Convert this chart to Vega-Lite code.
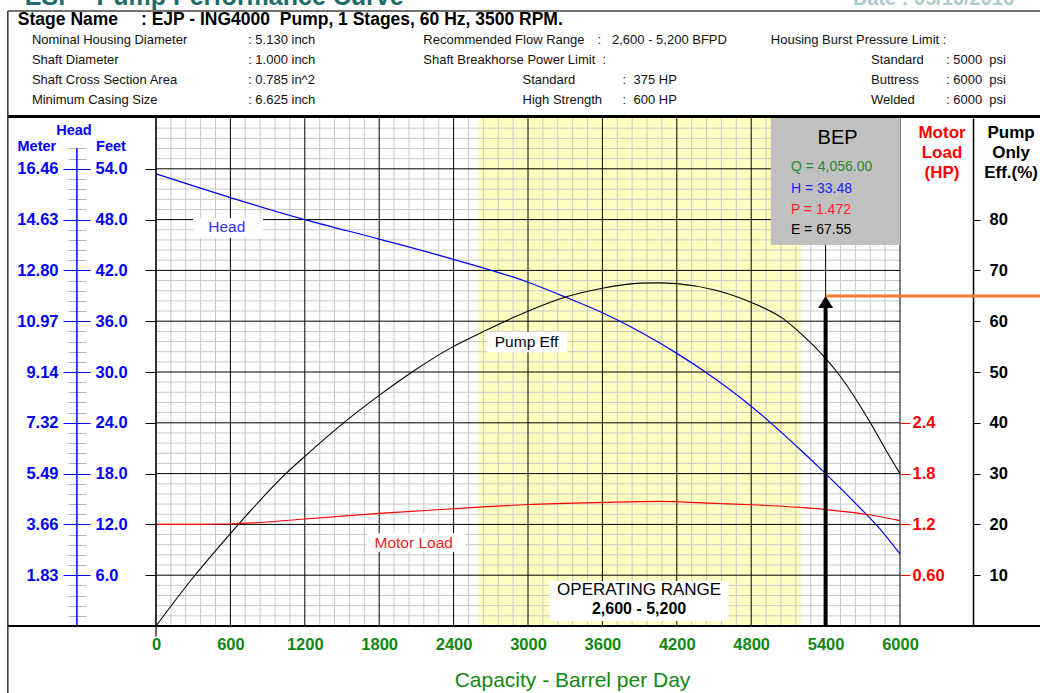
{
  "$schema": "https://vega.github.io/schema/vega-lite/v6.json",
  "width": 744,
  "height": 508,
  "autosize": {"type": "none"},
  "padding": {"left": 156, "top": 118, "right": 140, "bottom": 67},
  "background": "white",
  "config": {
    "view": {"stroke": null},
    "font": "Liberation Sans",
    "text": {"font": "Liberation Sans"},
    "axis": {"labelFont": "Liberation Sans", "titleFont": "Liberation Sans", "grid": false, "labelOverlap": false, "labelFlush": false, "labelBound": false}
  },
  "data": {"values": [{}]},
  "datasets": {
    "head": [
      {"q": 0, "ft": 53.4}, {"q": 600, "ft": 50.6}, {"q": 1200, "ft": 48.0}, {"q": 1800, "ft": 45.7},
      {"q": 2400, "ft": 43.3}, {"q": 3000, "ft": 40.6}, {"q": 3310, "ft": 38.8}, {"q": 3600, "ft": 37.0},
      {"q": 4056, "ft": 33.48}, {"q": 4200, "ft": 32.2}, {"q": 4410, "ft": 30.2}, {"q": 4870, "ft": 25.1},
      {"q": 5190, "ft": 20.9}, {"q": 5400, "ft": 18.0}, {"q": 5734, "ft": 13.1}, {"q": 5806, "ft": 12.0}, {"q": 6000, "ft": 8.5}
    ],
    "eff": [
      {"q": 0, "eff": 0}, {"q": 288, "eff": 9.2}, {"q": 600, "eff": 18.2}, {"q": 1047, "eff": 30.0},
      {"q": 1200, "eff": 33.4}, {"q": 1503, "eff": 39.8}, {"q": 1800, "eff": 45.4}, {"q": 2084, "eff": 50.3},
      {"q": 2374, "eff": 54.7}, {"q": 2670, "eff": 58.3}, {"q": 2993, "eff": 61.9}, {"q": 3317, "eff": 64.85},
      {"q": 3599, "eff": 66.5}, {"q": 3908, "eff": 67.5}, {"q": 4056, "eff": 67.55}, {"q": 4199, "eff": 67.4},
      {"q": 4498, "eff": 66.2}, {"q": 4810, "eff": 63.6}, {"q": 5063, "eff": 60.4}, {"q": 5194, "eff": 57.7},
      {"q": 5400, "eff": 52.7}, {"q": 5492, "eff": 50.0}, {"q": 5766, "eff": 39.8}, {"q": 5894, "eff": 34.3}, {"q": 6000, "eff": 30.0}
    ],
    "motor": [
      {"q": 0, "hp": 1.2}, {"q": 300, "hp": 1.2}, {"q": 600, "hp": 1.205}, {"q": 1200, "hp": 1.264}, {"q": 1800, "hp": 1.33},
      {"q": 2400, "hp": 1.385}, {"q": 3000, "hp": 1.435}, {"q": 3600, "hp": 1.46}, {"q": 4056, "hp": 1.472},
      {"q": 4521, "hp": 1.447}, {"q": 4800, "hp": 1.432}, {"q": 5194, "hp": 1.40}, {"q": 5400, "hp": 1.375},
      {"q": 5766, "hp": 1.311}, {"q": 6000, "hp": 1.244}
    ],
    "xminor": [
      {"v": 120}, {"v": 240}, {"v": 360}, {"v": 480}, {"v": 720}, {"v": 840}, {"v": 960}, {"v": 1080},
      {"v": 1320}, {"v": 1440}, {"v": 1560}, {"v": 1680}, {"v": 1920}, {"v": 2040}, {"v": 2160}, {"v": 2280},
      {"v": 2520}, {"v": 2640}, {"v": 2760}, {"v": 2880}, {"v": 3120}, {"v": 3240}, {"v": 3360}, {"v": 3480},
      {"v": 3720}, {"v": 3840}, {"v": 3960}, {"v": 4080}, {"v": 4320}, {"v": 4440}, {"v": 4560}, {"v": 4680},
      {"v": 4920}, {"v": 5040}, {"v": 5160}, {"v": 5280}, {"v": 5520}, {"v": 5640}, {"v": 5760}, {"v": 5880}
    ],
    "xmajor": [
      {"v": 0}, {"v": 600}, {"v": 1200}, {"v": 1800}, {"v": 2400}, {"v": 3000}, {"v": 3600},
      {"v": 4200}, {"v": 4800}, {"v": 5400}, {"v": 6000}
    ],
    "yminor": [
      {"v": 1.2}, {"v": 2.4}, {"v": 3.6}, {"v": 4.8}, {"v": 7.2}, {"v": 8.4}, {"v": 9.6}, {"v": 10.8},
      {"v": 13.2}, {"v": 14.4}, {"v": 15.6}, {"v": 16.8}, {"v": 19.2}, {"v": 20.4}, {"v": 21.6}, {"v": 22.8},
      {"v": 25.2}, {"v": 26.4}, {"v": 27.6}, {"v": 28.8}, {"v": 31.2}, {"v": 32.4}, {"v": 33.6}, {"v": 34.8},
      {"v": 37.2}, {"v": 38.4}, {"v": 39.6}, {"v": 40.8}, {"v": 43.2}, {"v": 44.4}, {"v": 45.6}, {"v": 46.8},
      {"v": 49.2}, {"v": 50.4}, {"v": 51.6}, {"v": 52.8}, {"v": 55.2}, {"v": 56.4}, {"v": 57.6}, {"v": 58.8}
    ],
    "ymajor": [
      {"v": 6}, {"v": 12}, {"v": 18}, {"v": 24}, {"v": 30}, {"v": 36}, {"v": 42}, {"v": 48}, {"v": 54}
    ],
    "header": [
      {"col": "S1", "line": 0, "text": "Stage Name"},
      {"col": "S2", "line": 0, "text": ": EJP - ING4000\u00a0\u00a0Pump, 1 Stages, 60 Hz, 3500 RPM."},
      {"col": "A", "line": 1, "text": "Nominal Housing Diameter"},
      {"col": "A", "line": 2, "text": "Shaft Diameter"},
      {"col": "A", "line": 3, "text": "Shaft Cross Section Area"},
      {"col": "A", "line": 4, "text": "Minimum Casing Size"},
      {"col": "B", "line": 1, "text": ": 5.130 inch"},
      {"col": "B", "line": 2, "text": ": 1.000 inch"},
      {"col": "B", "line": 3, "text": ": 0.785 in^2"},
      {"col": "B", "line": 4, "text": ": 6.625 inch"},
      {"col": "C", "line": 1, "text": "Recommended Flow Range"},
      {"col": "C", "line": 2, "text": "Shaft Breakhorse Power Limit\u00a0\u00a0:"},
      {"col": "D", "line": 1, "text": ":\u00a0\u00a0\u00a02,600 - 5,200 BFPD"},
      {"col": "E", "line": 3, "text": "Standard"},
      {"col": "E", "line": 4, "text": "High Strength"},
      {"col": "F", "line": 3, "text": ":\u00a0\u00a0375 HP"},
      {"col": "F", "line": 4, "text": ":\u00a0\u00a0600 HP"},
      {"col": "G", "line": 1, "text": "Housing Burst Pressure Limit :"},
      {"col": "H", "line": 2, "text": "Standard"},
      {"col": "H", "line": 3, "text": "Buttress"},
      {"col": "H", "line": 4, "text": "Welded"},
      {"col": "I", "line": 2, "text": ":\u00a05000\u00a0\u00a0psi"},
      {"col": "I", "line": 3, "text": ":\u00a06000\u00a0\u00a0psi"},
      {"col": "I", "line": 4, "text": ":\u00a06000\u00a0\u00a0psi"}
    ]
  },
  "layer": [
    {
      "data": {"values": [{"from": 2600, "to": 5200}]},
      "mark": {"type": "rect", "color": "#ffffc0"},
      "encoding": {
        "x": {"field": "from", "type": "quantitative", "scale": {"domain": [0, 6000], "nice": false, "zero": false}, "axis": null},
        "x2": {"field": "to"},
        "y": {"datum": 0, "type": "quantitative", "scale": {"domain": [0, 60], "nice": false, "zero": false}, "axis": null},
        "y2": {"datum": 60}
      }
    },
    {
      "data": {"name": "xminor"},
      "mark": {"type": "rule", "color": "#c8c8c8", "strokeWidth": 1},
      "encoding": {
        "x": {"field": "v", "type": "quantitative", "scale": {"domain": [0, 6000], "nice": false, "zero": false}, "axis": null}
      }
    },
    {
      "data": {"name": "yminor"},
      "mark": {"type": "rule", "color": "#c8c8c8", "strokeWidth": 1},
      "encoding": {
        "y": {"field": "v", "type": "quantitative", "scale": {"domain": [0, 60], "nice": false, "zero": false},
          "axis": {"orient": "left", "offset": 70, "values": [1.2, 2.4, 3.6, 4.8, 7.2, 8.4, 9.6, 10.8, 13.2, 14.4, 15.6, 16.8, 19.2, 20.4, 21.6, 22.8, 25.2, 26.4, 27.6, 28.8, 31.2, 32.4, 33.6, 34.8, 37.2, 38.4, 39.6, 40.8, 43.2, 44.4, 45.6, 46.8, 49.2, 50.4, 51.6, 52.8, 55.2, 56.4],
            "tickSize": 18, "tickColor": "#b4b4b4", "labels": false, "domain": false, "grid": false, "title": null}}
      }
    },
    {
      "data": {"name": "xmajor"},
      "mark": {"type": "rule", "color": "#000000", "strokeWidth": 1},
      "encoding": {
        "x": {"field": "v", "type": "quantitative", "scale": {"domain": [0, 6000], "nice": false, "zero": false},
          "axis": {"orient": "bottom", "values": [0, 600, 1200, 1800, 2400, 3000, 3600, 4200, 4800, 5400, 6000], "format": "d",
            "ticks": false, "tickSize": 0, "domain": false, "grid": false, "labelPadding": 10,
            "labelColor": "#118811", "labelFontSize": 16.5, "labelFontWeight": "bold",
            "title": "Capacity - Barrel per Day", "titleColor": "#118811", "titleFontSize": 21, "titleFontWeight": "normal",
            "titleX": 416, "titleY": 54, "titleAlign": "center", "titleBaseline": "middle"}}
      }
    },
    {
      "data": {"name": "ymajor"},
      "mark": {"type": "rule", "color": "#000000", "strokeWidth": 1},
      "encoding": {
        "y": {"field": "v", "type": "quantitative", "scale": {"domain": [0, 60], "nice": false, "zero": false},
          "axis": {"orient": "left", "offset": 0, "values": [6, 12, 18, 24, 30, 36, 42, 48, 54], "tickSize": 11, "tickColor": "#000000",
            "labels": false, "domain": false, "grid": false, "title": null}}
      }
    },
    {
      "mark": {"type": "rect", "color": "white"},
      "encoding": {
        "x": {"datum": 299, "type": "quantitative", "scale": {"domain": [0, 6000], "nice": false, "zero": false}, "axis": null},
        "x2": {"datum": 864},
        "y": {"datum": 45.83, "type": "quantitative", "scale": {"domain": [0, 60], "nice": false, "zero": false}, "axis": null},
        "y2": {"datum": 48.19}
      }
    },
    {
      "mark": {"type": "rect", "color": "white"},
      "encoding": {
        "x": {"datum": 2670, "type": "quantitative", "scale": {"domain": [0, 6000], "nice": false, "zero": false}, "axis": null},
        "x2": {"datum": 3317},
        "y": {"datum": 32.33, "type": "quantitative", "scale": {"domain": [0, 60], "nice": false, "zero": false}, "axis": null},
        "y2": {"datum": 34.76}
      }
    },
    {
      "mark": {"type": "rect", "color": "white"},
      "encoding": {
        "x": {"datum": 1701, "type": "quantitative", "scale": {"domain": [0, 6000], "nice": false, "zero": false}, "axis": null},
        "x2": {"datum": 2495},
        "y": {"datum": 8.78, "type": "quantitative", "scale": {"domain": [0, 60], "nice": false, "zero": false}, "axis": null},
        "y2": {"datum": 10.95}
      }
    },
    {
      "mark": {"type": "rect", "color": "white"},
      "encoding": {
        "x": {"datum": 3174, "type": "quantitative", "scale": {"domain": [0, 6000], "nice": false, "zero": false}, "axis": null},
        "x2": {"datum": 4619},
        "y": {"datum": 0.59, "type": "quantitative", "scale": {"domain": [0, 60], "nice": false, "zero": false}, "axis": null},
        "y2": {"datum": 5.31}
      }
    },
    {
      "data": {"name": "head"},
      "mark": {"type": "line", "color": "#0000ff", "strokeWidth": 1.2, "interpolate": "monotone"},
      "encoding": {
        "x": {"field": "q", "type": "quantitative", "scale": {"domain": [0, 6000], "nice": false, "zero": false}, "axis": null},
        "y": {"field": "ft", "type": "quantitative", "scale": {"domain": [0, 60], "nice": false, "zero": false},
          "axis": {"orient": "left", "offset": 66, "values": [6, 12, 18, 24, 30, 36, 42, 48, 54], "tickSize": 27, "tickColor": "#0000ff",
            "domain": false, "grid": false, "labelExpr": "format(datum.value * 0.3048, '.2f')", "labelColor": "#0000ff",
            "labelFontSize": 16.5, "labelFontWeight": "bold", "labelPadding": 5, "title": null}}
      }
    },
    {
      "mark": {"type": "rule", "color": "#0000ff", "strokeWidth": 1.5},
      "encoding": {
        "x": {"datum": -638, "type": "quantitative", "scale": {"domain": [0, 6000], "nice": false, "zero": false}, "axis": null},
        "y": {"datum": 0, "type": "quantitative", "scale": {"domain": [0, 60], "nice": false, "zero": false},
          "axis": {"orient": "right", "offset": -810, "values": [6, 12, 18, 24, 30, 36, 42, 48, 54], "ticks": false, "tickSize": 0,
            "domain": false, "grid": false, "format": ".1f", "labelColor": "#0000ff", "labelFontSize": 16.5, "labelFontWeight": "bold",
            "labelPadding": 5, "title": null}},
        "y2": {"datum": 56.4}
      }
    },
    {
      "data": {"name": "eff"},
      "mark": {"type": "line", "color": "#000000", "strokeWidth": 1.1, "interpolate": "monotone"},
      "encoding": {
        "x": {"field": "q", "type": "quantitative", "scale": {"domain": [0, 6000], "nice": false, "zero": false}, "axis": null},
        "y": {"field": "eff", "type": "quantitative", "scale": {"domain": [0, 100], "nice": false, "zero": false},
          "axis": {"orient": "right", "offset": 73, "values": [10, 20, 30, 40, 50, 60, 70, 80], "tickSize": 7, "tickColor": "#000000",
            "domain": true, "domainColor": "#000000", "domainWidth": 1.5, "grid": false, "format": "d", "labelColor": "#000000",
            "labelFontSize": 16.5, "labelFontWeight": "bold", "labelPadding": 9, "title": null}}
      }
    },
    {
      "data": {"name": "motor"},
      "mark": {"type": "line", "color": "#ff0000", "strokeWidth": 1.2, "interpolate": "monotone"},
      "encoding": {
        "x": {"field": "q", "type": "quantitative", "scale": {"domain": [0, 6000], "nice": false, "zero": false}, "axis": null},
        "y": {"field": "hp", "type": "quantitative", "scale": {"domain": [0, 6], "nice": false, "zero": false},
          "axis": {"orient": "right", "offset": 0, "values": [0.6, 1.2, 1.8, 2.4], "tickSize": 10, "tickColor": "#ff0000",
            "domain": false, "grid": false, "labelExpr": "datum.value < 1 ? '0.60' : format(datum.value, '.1f')",
            "labelColor": "#ff0000", "labelFontSize": 16.5, "labelFontWeight": "bold", "labelPadding": 2, "title": null}}
      }
    },
    {
      "mark": {"type": "rect", "color": "#c0c0c0"},
      "encoding": {
        "x": {"datum": 4958, "type": "quantitative", "scale": {"domain": [0, 6000], "nice": false, "zero": false}, "axis": null},
        "x2": {"datum": 6000},
        "y": {"datum": 45.0, "type": "quantitative", "scale": {"domain": [0, 60], "nice": false, "zero": false}, "axis": null},
        "y2": {"datum": 60}
      }
    },
    {
      "mark": {"type": "text", "text": "BEP", "fontSize": 20, "color": "#000000", "align": "center", "baseline": "middle"},
      "encoding": {
        "x": {"datum": 5497, "type": "quantitative", "scale": {"domain": [0, 6000], "nice": false, "zero": false}, "axis": null},
        "y": {"datum": 57.6, "type": "quantitative", "scale": {"domain": [0, 60], "nice": false, "zero": false}, "axis": null}
      }
    },
    {
      "mark": {"type": "text", "text": "Q = 4,056.00", "fontSize": 14, "color": "#2a8a2a", "align": "left", "baseline": "middle"},
      "encoding": {
        "x": {"datum": 5120, "type": "quantitative", "scale": {"domain": [0, 6000], "nice": false, "zero": false}, "axis": null},
        "y": {"datum": 54.18, "type": "quantitative", "scale": {"domain": [0, 60], "nice": false, "zero": false}, "axis": null}
      }
    },
    {
      "mark": {"type": "text", "text": "H = 33.48", "fontSize": 14, "color": "#2222ff", "align": "left", "baseline": "middle"},
      "encoding": {
        "x": {"datum": 5120, "type": "quantitative", "scale": {"domain": [0, 6000], "nice": false, "zero": false}, "axis": null},
        "y": {"datum": 51.6, "type": "quantitative", "scale": {"domain": [0, 60], "nice": false, "zero": false}, "axis": null}
      }
    },
    {
      "mark": {"type": "text", "text": "P = 1.472", "fontSize": 14, "color": "#ff2020", "align": "left", "baseline": "middle"},
      "encoding": {
        "x": {"datum": 5120, "type": "quantitative", "scale": {"domain": [0, 6000], "nice": false, "zero": false}, "axis": null},
        "y": {"datum": 49.1, "type": "quantitative", "scale": {"domain": [0, 60], "nice": false, "zero": false}, "axis": null}
      }
    },
    {
      "mark": {"type": "text", "text": "E = 67.55", "fontSize": 14, "color": "#000000", "align": "left", "baseline": "middle"},
      "encoding": {
        "x": {"datum": 5120, "type": "quantitative", "scale": {"domain": [0, 6000], "nice": false, "zero": false}, "axis": null},
        "y": {"datum": 46.8, "type": "quantitative", "scale": {"domain": [0, 60], "nice": false, "zero": false}, "axis": null}
      }
    },
    {
      "mark": {"type": "text", "text": "OPERATING RANGE", "fontSize": 17, "color": "#000000", "align": "center", "baseline": "middle"},
      "encoding": {
        "x": {"datum": 3896, "type": "quantitative", "scale": {"domain": [0, 6000], "nice": false, "zero": false}, "axis": null},
        "y": {"datum": 4.25, "type": "quantitative", "scale": {"domain": [0, 60], "nice": false, "zero": false}, "axis": null}
      }
    },
    {
      "mark": {"type": "text", "text": "2,600 - 5,200", "fontSize": 16, "fontWeight": "bold", "color": "#000000", "align": "center", "baseline": "middle"},
      "encoding": {
        "x": {"datum": 3896, "type": "quantitative", "scale": {"domain": [0, 6000], "nice": false, "zero": false}, "axis": null},
        "y": {"datum": 2.0, "type": "quantitative", "scale": {"domain": [0, 60], "nice": false, "zero": false}, "axis": null}
      }
    },
    {
      "mark": {"type": "text", "text": "Head", "fontSize": 15.5, "color": "#3333ff", "align": "center", "baseline": "middle"},
      "encoding": {
        "x": {"datum": 571, "type": "quantitative", "scale": {"domain": [0, 6000], "nice": false, "zero": false}, "axis": null},
        "y": {"datum": 47.13, "type": "quantitative", "scale": {"domain": [0, 60], "nice": false, "zero": false}, "axis": null}
      }
    },
    {
      "mark": {"type": "text", "text": "Pump Eff", "fontSize": 15.5, "color": "#000000", "align": "center", "baseline": "middle"},
      "encoding": {
        "x": {"datum": 2988, "type": "quantitative", "scale": {"domain": [0, 6000], "nice": false, "zero": false}, "axis": null},
        "y": {"datum": 33.54, "type": "quantitative", "scale": {"domain": [0, 60], "nice": false, "zero": false}, "axis": null}
      }
    },
    {
      "mark": {"type": "text", "text": "Motor Load", "fontSize": 15.5, "color": "#ff2020", "align": "center", "baseline": "middle"},
      "encoding": {
        "x": {"datum": 2078, "type": "quantitative", "scale": {"domain": [0, 6000], "nice": false, "zero": false}, "axis": null},
        "y": {"datum": 9.86, "type": "quantitative", "scale": {"domain": [0, 60], "nice": false, "zero": false}, "axis": null}
      }
    },
    {
      "mark": {"type": "rule", "color": "#000000", "strokeWidth": 4},
      "encoding": {
        "x": {"datum": 5400, "type": "quantitative", "scale": {"domain": [0, 6000], "nice": false, "zero": false}, "axis": null},
        "y": {"datum": 0, "type": "quantitative", "scale": {"domain": [0, 60], "nice": false, "zero": false}, "axis": null},
        "y2": {"datum": 37.6}
      }
    },
    {
      "mark": {"type": "point", "shape": "M0,-0.8L1,0.8L-1,0.8Z", "size": 225, "filled": true, "color": "#000000", "opacity": 1},
      "encoding": {
        "x": {"datum": 5400, "type": "quantitative", "scale": {"domain": [0, 6000], "nice": false, "zero": false}, "axis": null},
        "y": {"datum": 38.27, "type": "quantitative", "scale": {"domain": [0, 60], "nice": false, "zero": false}, "axis": null}
      }
    },
    {
      "mark": {"type": "rule", "color": "#ed7d31", "strokeWidth": 3},
      "encoding": {
        "x": {"datum": 5400, "type": "quantitative", "scale": {"domain": [0, 6000], "nice": false, "zero": false}, "axis": null},
        "x2": {"datum": 7140},
        "y": {"datum": 38.98, "type": "quantitative", "scale": {"domain": [0, 60], "nice": false, "zero": false}, "axis": null}
      }
    },
    {
      "mark": {"type": "rule", "color": "#000000", "strokeWidth": 3},
      "encoding": {
        "x": {"datum": -1195, "type": "quantitative", "scale": {"domain": [0, 6000], "nice": false, "zero": false}, "axis": null},
        "x2": {"datum": 7140},
        "y": {"datum": 60.18, "type": "quantitative", "scale": {"domain": [0, 60], "nice": false, "zero": false}, "axis": null}
      }
    },
    {
      "mark": {"type": "rule", "color": "#000000", "strokeWidth": 2},
      "encoding": {
        "x": {"datum": -1195, "type": "quantitative", "scale": {"domain": [0, 6000], "nice": false, "zero": false}, "axis": null},
        "x2": {"datum": 7140},
        "y": {"datum": 0, "type": "quantitative", "scale": {"domain": [0, 60], "nice": false, "zero": false}, "axis": null}
      }
    },
    {
      "mark": {"type": "rule", "color": "#444444", "strokeWidth": 1.5},
      "encoding": {
        "x": {"datum": -1195, "type": "quantitative", "scale": {"domain": [0, 6000], "nice": false, "zero": false}, "axis": null},
        "x2": {"datum": 7140},
        "y": {"datum": 72.64, "type": "quantitative", "scale": {"domain": [0, 60], "nice": false, "zero": false}, "axis": null}
      }
    },
    {
      "mark": {"type": "rule", "color": "#333333", "strokeWidth": 1.5},
      "encoding": {
        "x": {"datum": -1195, "type": "quantitative", "scale": {"domain": [0, 6000], "nice": false, "zero": false}, "axis": null},
        "y": {"datum": -8, "type": "quantitative", "scale": {"domain": [0, 60], "nice": false, "zero": false}, "axis": null},
        "y2": {"datum": 72.64}
      }
    },
    {
      "mark": {"type": "rule", "color": "#000000", "strokeWidth": 1.2},
      "encoding": {
        "x": {"datum": 0, "type": "quantitative", "scale": {"domain": [0, 6000], "nice": false, "zero": false}, "axis": null},
        "y": {"datum": -1.25, "type": "quantitative", "scale": {"domain": [0, 60], "nice": false, "zero": false}, "axis": null},
        "y2": {"datum": 60}
      }
    },
    {
      "mark": {"type": "text", "text": "Head", "fontSize": 14.5, "fontWeight": "bold", "color": "#0000ff", "align": "center", "baseline": "middle"},
      "encoding": {
        "x": {"datum": -662, "type": "quantitative", "scale": {"domain": [0, 6000], "nice": false, "zero": false}, "axis": null},
        "y": {"datum": 58.46, "type": "quantitative", "scale": {"domain": [0, 60], "nice": false, "zero": false}, "axis": null}
      }
    },
    {
      "mark": {"type": "text", "text": "Meter", "fontSize": 14.5, "fontWeight": "bold", "color": "#0000ff", "align": "center", "baseline": "middle"},
      "encoding": {
        "x": {"datum": -961, "type": "quantitative", "scale": {"domain": [0, 6000], "nice": false, "zero": false}, "axis": null},
        "y": {"datum": 56.57, "type": "quantitative", "scale": {"domain": [0, 60], "nice": false, "zero": false}, "axis": null}
      }
    },
    {
      "mark": {"type": "text", "text": "Feet", "fontSize": 14.5, "fontWeight": "bold", "color": "#0000ff", "align": "center", "baseline": "middle"},
      "encoding": {
        "x": {"datum": -363, "type": "quantitative", "scale": {"domain": [0, 6000], "nice": false, "zero": false}, "axis": null},
        "y": {"datum": 56.57, "type": "quantitative", "scale": {"domain": [0, 60], "nice": false, "zero": false}, "axis": null}
      }
    },
    {
      "mark": {"type": "text", "text": ["Motor", "Load", "(HP)"], "lineHeight": 20, "fontSize": 17, "fontWeight": "bold", "color": "#ff0000", "align": "center", "baseline": "middle"},
      "encoding": {
        "x": {"datum": 6339, "type": "quantitative", "scale": {"domain": [0, 6000], "nice": false, "zero": false}, "axis": null},
        "y": {"datum": 58.2, "type": "quantitative", "scale": {"domain": [0, 60], "nice": false, "zero": false}, "axis": null}
      }
    },
    {
      "mark": {"type": "text", "text": ["Pump", "Only", "Eff.(%)"], "lineHeight": 20, "fontSize": 17, "fontWeight": "bold", "color": "#000000", "align": "center", "baseline": "middle"},
      "encoding": {
        "x": {"datum": 6896, "type": "quantitative", "scale": {"domain": [0, 6000], "nice": false, "zero": false}, "axis": null},
        "y": {"datum": 58.2, "type": "quantitative", "scale": {"domain": [0, 60], "nice": false, "zero": false}, "axis": null}
      }
    },
    {
      "mark": {"type": "text", "text": "ESP - Pump Performance Curve", "fontSize": 25, "fontWeight": "bold", "color": "#1f6b6b", "align": "left", "baseline": "alphabetic"},
      "encoding": {
        "x": {"datum": -1058, "type": "quantitative", "scale": {"domain": [0, 6000], "nice": false, "zero": false}, "axis": null},
        "y": {"datum": 73.35, "type": "quantitative", "scale": {"domain": [0, 60], "nice": false, "zero": false}, "axis": null}
      }
    },
    {
      "mark": {"type": "text", "text": "Date : 05/10/2016", "fontSize": 20, "fontWeight": "bold", "color": "#a8cccc", "align": "left", "baseline": "alphabetic"},
      "encoding": {
        "x": {"datum": 5620, "type": "quantitative", "scale": {"domain": [0, 6000], "nice": false, "zero": false}, "axis": null},
        "y": {"datum": 73.35, "type": "quantitative", "scale": {"domain": [0, 60], "nice": false, "zero": false}, "axis": null}
      }
    },
    {
      "data": {"name": "header"},
      "transform": [{"filter": "datum.col === 'S1'"}],
      "mark": {"type": "text", "fontSize": 17.5, "fontWeight": "bold", "color": "#000000", "align": "left", "baseline": "middle"},
      "encoding": {
        "x": {"datum": -1114, "type": "quantitative", "scale": {"domain": [0, 6000], "nice": false, "zero": false}, "axis": null},
        "y": {"field": "line", "type": "quantitative", "scale": {"domain": [4.9, 30.3], "reverse": true, "nice": false, "zero": false}, "axis": null},
        "text": {"field": "text"}
      }
    },
    {
      "data": {"name": "header"},
      "transform": [{"filter": "datum.col === 'S2'"}],
      "mark": {"type": "text", "fontSize": 17.5, "fontWeight": "bold", "color": "#000000", "align": "left", "baseline": "middle"},
      "encoding": {
        "x": {"datum": -121, "type": "quantitative", "scale": {"domain": [0, 6000], "nice": false, "zero": false}, "axis": null},
        "y": {"field": "line", "type": "quantitative", "scale": {"domain": [4.9, 30.3], "reverse": true, "nice": false, "zero": false}, "axis": null},
        "text": {"field": "text"}
      }
    },
    {
      "data": {"name": "header"},
      "transform": [{"filter": "datum.col === 'A'"}],
      "mark": {"type": "text", "fontSize": 13, "color": "#111111", "align": "left", "baseline": "middle"},
      "encoding": {
        "x": {"datum": -1001, "type": "quantitative", "scale": {"domain": [0, 6000], "nice": false, "zero": false}, "axis": null},
        "y": {"field": "line", "type": "quantitative", "scale": {"domain": [4.9, 30.3], "reverse": true, "nice": false, "zero": false}, "axis": null},
        "text": {"field": "text"}
      }
    },
    {
      "data": {"name": "header"},
      "transform": [{"filter": "datum.col === 'B'"}],
      "mark": {"type": "text", "fontSize": 13, "color": "#111111", "align": "left", "baseline": "middle"},
      "encoding": {
        "x": {"datum": 743, "type": "quantitative", "scale": {"domain": [0, 6000], "nice": false, "zero": false}, "axis": null},
        "y": {"field": "line", "type": "quantitative", "scale": {"domain": [4.9, 30.3], "reverse": true, "nice": false, "zero": false}, "axis": null},
        "text": {"field": "text"}
      }
    },
    {
      "data": {"name": "header"},
      "transform": [{"filter": "datum.col === 'C'"}],
      "mark": {"type": "text", "fontSize": 13, "color": "#111111", "align": "left", "baseline": "middle"},
      "encoding": {
        "x": {"datum": 2156, "type": "quantitative", "scale": {"domain": [0, 6000], "nice": false, "zero": false}, "axis": null},
        "y": {"field": "line", "type": "quantitative", "scale": {"domain": [4.9, 30.3], "reverse": true, "nice": false, "zero": false}, "axis": null},
        "text": {"field": "text"}
      }
    },
    {
      "data": {"name": "header"},
      "transform": [{"filter": "datum.col === 'D'"}],
      "mark": {"type": "text", "fontSize": 13, "color": "#111111", "align": "left", "baseline": "middle"},
      "encoding": {
        "x": {"datum": 3561, "type": "quantitative", "scale": {"domain": [0, 6000], "nice": false, "zero": false}, "axis": null},
        "y": {"field": "line", "type": "quantitative", "scale": {"domain": [4.9, 30.3], "reverse": true, "nice": false, "zero": false}, "axis": null},
        "text": {"field": "text"}
      }
    },
    {
      "data": {"name": "header"},
      "transform": [{"filter": "datum.col === 'E'"}],
      "mark": {"type": "text", "fontSize": 13, "color": "#111111", "align": "left", "baseline": "middle"},
      "encoding": {
        "x": {"datum": 2956, "type": "quantitative", "scale": {"domain": [0, 6000], "nice": false, "zero": false}, "axis": null},
        "y": {"field": "line", "type": "quantitative", "scale": {"domain": [4.9, 30.3], "reverse": true, "nice": false, "zero": false}, "axis": null},
        "text": {"field": "text"}
      }
    },
    {
      "data": {"name": "header"},
      "transform": [{"filter": "datum.col === 'F'"}],
      "mark": {"type": "text", "fontSize": 13, "color": "#111111", "align": "left", "baseline": "middle"},
      "encoding": {
        "x": {"datum": 3763, "type": "quantitative", "scale": {"domain": [0, 6000], "nice": false, "zero": false}, "axis": null},
        "y": {"field": "line", "type": "quantitative", "scale": {"domain": [4.9, 30.3], "reverse": true, "nice": false, "zero": false}, "axis": null},
        "text": {"field": "text"}
      }
    },
    {
      "data": {"name": "header"},
      "transform": [{"filter": "datum.col === 'G'"}],
      "mark": {"type": "text", "fontSize": 13, "color": "#111111", "align": "left", "baseline": "middle"},
      "encoding": {
        "x": {"datum": 4958, "type": "quantitative", "scale": {"domain": [0, 6000], "nice": false, "zero": false}, "axis": null},
        "y": {"field": "line", "type": "quantitative", "scale": {"domain": [4.9, 30.3], "reverse": true, "nice": false, "zero": false}, "axis": null},
        "text": {"field": "text"}
      }
    },
    {
      "data": {"name": "header"},
      "transform": [{"filter": "datum.col === 'H'"}],
      "mark": {"type": "text", "fontSize": 13, "color": "#111111", "align": "left", "baseline": "middle"},
      "encoding": {
        "x": {"datum": 5766, "type": "quantitative", "scale": {"domain": [0, 6000], "nice": false, "zero": false}, "axis": null},
        "y": {"field": "line", "type": "quantitative", "scale": {"domain": [4.9, 30.3], "reverse": true, "nice": false, "zero": false}, "axis": null},
        "text": {"field": "text"}
      }
    },
    {
      "data": {"name": "header"},
      "transform": [{"filter": "datum.col === 'I'"}],
      "mark": {"type": "text", "fontSize": 13, "color": "#111111", "align": "left", "baseline": "middle"},
      "encoding": {
        "x": {"datum": 6371, "type": "quantitative", "scale": {"domain": [0, 6000], "nice": false, "zero": false}, "axis": null},
        "y": {"field": "line", "type": "quantitative", "scale": {"domain": [4.9, 30.3], "reverse": true, "nice": false, "zero": false}, "axis": null},
        "text": {"field": "text"}
      }
    }
  ],
  "resolve": {"scale": {"y": "independent"}, "axis": {"x": "independent"}}
}
